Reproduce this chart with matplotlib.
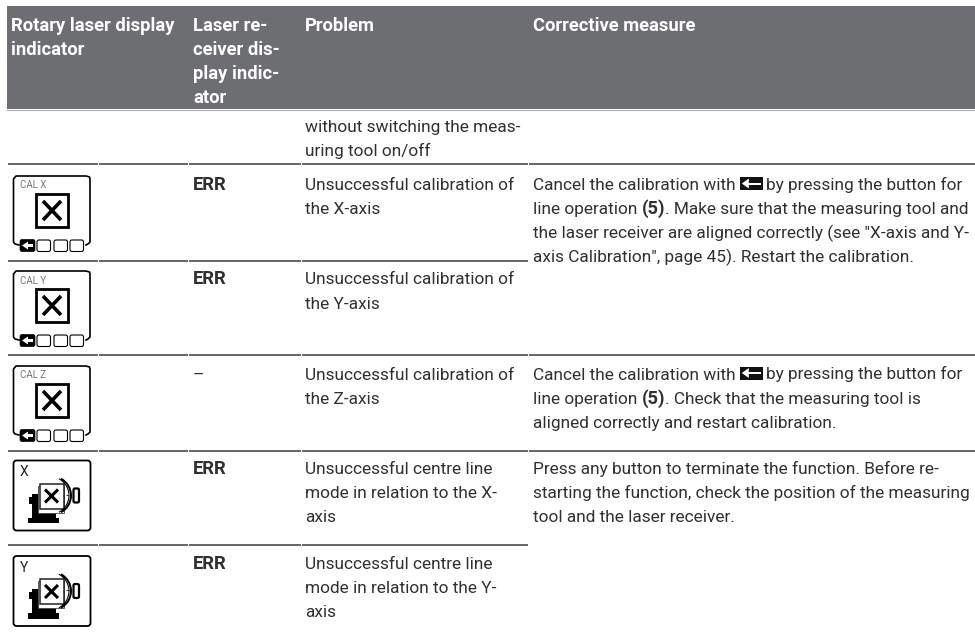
import matplotlib
matplotlib.use("Agg")
import matplotlib.pyplot as plt
from matplotlib.patches import Rectangle, FancyBboxPatch, Polygon, Arc

# ---------- table content ----------
header_cols = [["Rotary laser display", "indicator"],
               ["Laser re-", "ceiver dis-", "play indic-", "ator"],
               ["Problem"],
               ["Corrective measure"]]
continued_problem = ["without switching the meas-", "uring tool on/off"]
row_icons = ["CAL X", "CAL Y", "CAL Z", "X", "Y"]
row_codes = ["ERR", "ERR", "–", "ERR", "ERR"]
row_problems = [["Unsuccessful calibration of", "the X-axis"],
                ["Unsuccessful calibration of", "the Y-axis"],
                ["Unsuccessful calibration of", "the Z-axis"],
                ["Unsuccessful centre line", "mode in relation to the X-", "axis"],
                ["Unsuccessful centre line", "mode in relation to the Y-", "axis"]]
# runs: (text, bold); None marks the inline button symbol
measure_xy = [[("Cancel the calibration with", False), None, ("by pressing the button for", False)],
              [("line operation", False), ("(5)", True), (". Make sure that the measuring tool and", False)],
              [("the laser receiver are aligned correctly (see \"X-axis and Y-", False)],
              [("axis Calibration\", page 45). Restart the calibration.", False)]]
measure_z = [[("Cancel the calibration with", False), None, ("by pressing the button for", False)],
             [("line operation", False), ("(5)", True), (". Check that the measuring tool is", False)],
             [("aligned correctly and restart calibration.", False)]]
measure_mode = [[("Press any button to terminate the function. Before re-", False)],
                [("starting the function, check the position of the measuring", False)],
                [("tool and the laser receiver.", False)]]

# ---------- layout ----------
col_edges = [7, 98, 188, 301, 528, 975]
text_x = [11, 193, 305, 533]
rule_y = [164, 260.5, 355, 451, 545]
rule_cols = [5, 4, 5, 5, 4]          # number of column segments each rule spans
first_base = [190, 284.5, 379.5, 474, 569]
icon_top = [176, 271, 366, 460.5, 556]
PITCH = 24.1
INK = "#303032"
GREY = "#6d6e71"
FS = 12.45
FS_BOLD = 13.2
plt.rcParams["font.family"] = ["Roboto", "DejaVu Sans"]

fig = plt.figure(figsize=(9.75, 6.36), dpi=100)
ax = fig.add_axes([0, 0, 1, 1])
ax.set_xlim(0, 975)
ax.set_ylim(636, 0)
ax.axis("off")


def put(x, y, s, bold=False, color=INK):
    return ax.text(x, y, s, fontsize=FS_BOLD if bold else FS, color=color, va="baseline", ha="left",
                   fontweight="bold" if bold else "normal")


def lines(x, y, rows, **kw):
    for i, s in enumerate(rows):
        put(x, y + i * PITCH, s, **kw)


def button(x, base):
    ax.add_patch(Rectangle((x, base - 13), 23, 13, fc="#111111", ec="none"))
    ax.add_patch(Polygon([(x + 2, base - 6.5), (x + 9, base - 11.5), (x + 9, base - 1.5)], fc="white", ec="none"))
    ax.add_patch(Rectangle((x + 8, base - 7.5), 13, 2, fc="white", ec="none"))


def rich(x, y, rows):
    rend = fig.canvas.get_renderer()
    for i, row in enumerate(rows):
        cx = x
        b = y + i * PITCH
        for run in row:
            if run is None:
                button(cx, b)
                cx += 26
            else:
                if run[0].startswith("."):
                    cx -= 4.2
                t = put(cx, b, run[0], bold=run[1])
                cx = ax.transData.inverted().transform(t.get_window_extent(rend).get_points())[1][0] + 4.2


def cross(x0, y0, x1, y1, lw, z=2):
    ax.plot([x0, x1], [y0, y1], color="black", lw=lw, solid_capstyle="butt", zorder=z)
    ax.plot([x0, x1], [y1, y0], color="black", lw=lw, solid_capstyle="butt", zorder=z)


def round_box(x, y, w, h, r, lw=1.1, fc="none", ec="black", z=2):
    ax.add_patch(FancyBboxPatch((x + r, y + r), w - 2 * r, h - 2 * r,
                                boxstyle=f"round,pad={r},rounding_size={r}",
                                fc=fc, ec=ec, lw=lw, zorder=z))


def cal_icon(top, label):
    ax.plot([19, 15, 13.5, 13.5, 16, 86, 89.5, 90, 90, 88, 86],
            [top + 69, top + 68, top + 66, top + 3, top, top, top + 1, top + 3, top + 66, top + 68, top + 69],
            color="black", lw=1.2)
    ax.text(19.5, top + 12.5, label, fontsize=7, color="#777777", va="baseline")
    ax.add_patch(Rectangle((36, top + 18), 32, 33, fc="white", ec="black", lw=2.0))
    cross(43, top + 25, 61, top + 44, 2.6)
    round_box(20, top + 63.5, 15, 12, 2, fc="black", lw=0.5)
    ax.add_patch(Polygon([(22, top + 69.5), (28, top + 65.5), (28, top + 73.5)], fc="white", ec="none", zorder=3))
    ax.add_patch(Rectangle((27, top + 68), 6, 3, fc="white", ec="none", zorder=3))
    for bx in (37, 54, 70):
        round_box(bx, top + 64, 13.5, 11.5, 2, lw=0.8)


def mode_icon(top, label):
    round_box(13.5, top, 77, 70, 3, lw=1.3)
    ax.text(19.5, top + 16, label, fontsize=10, color="#222222", va="baseline")
    # tool silhouette
    ax.add_patch(Rectangle((28, top + 57), 31, 5.5, fc="black", ec="none"))
    ax.add_patch(Rectangle((32, top + 33), 13, 25, fc="black", ec="none"))
    ax.add_patch(Rectangle((28.5, top + 36), 5, 7, fc="black", ec="none"))
    ax.add_patch(Rectangle((38, top + 49), 18, 9, fc="black", ec="none"))
    # display frame
    ax.add_patch(Rectangle((38, top + 25), 26, 27, fc="white", ec="#444444", lw=0.6, zorder=3))
    ax.add_patch(Rectangle((40, top + 23), 23.5, 25, fc="white", ec="#222222", lw=1.1, zorder=4))
    cross(45, top + 29, 58, top + 42, 2.2, z=5)
    # swing arc and receiver
    ax.add_patch(Arc((52, top + 35), 38, 38, theta1=-62, theta2=62, ec="black", lw=1.4, zorder=4))
    ax.add_patch(Arc((50, top + 35), 38, 38, theta1=-62, theta2=62, ec="black", lw=0.8, zorder=4))
    ax.plot([66, 73], [top + 34, top + 34], color="#333333", lw=0.8, ls=(0, (2, 1)))
    round_box(73.5, top + 28, 5.5, 14, 1.5, lw=1.6)


# ---------- header ----------
ax.add_patch(Rectangle((7, 6), 968, 103, fc=GREY, ec="none"))
ax.plot([7, 975], [109.5, 109.5], color="#a8a9ab", lw=0.8)
for x, rows in zip(text_x, header_cols):
    lines(x, 31, rows, bold=True, color="white")

# ---------- body ----------
lines(text_x[2], 132, continued_problem)
for y, n in zip(rule_y, rule_cols):
    for a, b in zip(col_edges[:n], col_edges[1:n + 1]):
        ax.plot([a + 0.5, b - 0.5], [y, y], color="#4b4b4d", lw=1.2, solid_capstyle="butt")

for i in range(5):
    (cal_icon if i < 3 else mode_icon)(icon_top[i], row_icons[i])
    put(text_x[1], first_base[i], row_codes[i], bold=row_codes[i] != "–")
    lines(text_x[2], first_base[i], row_problems[i])

rich(text_x[3], first_base[0], measure_xy)
rich(text_x[3], first_base[2], measure_z)
rich(text_x[3], first_base[3], measure_mode)

fig.savefig("out.png", dpi=100)
